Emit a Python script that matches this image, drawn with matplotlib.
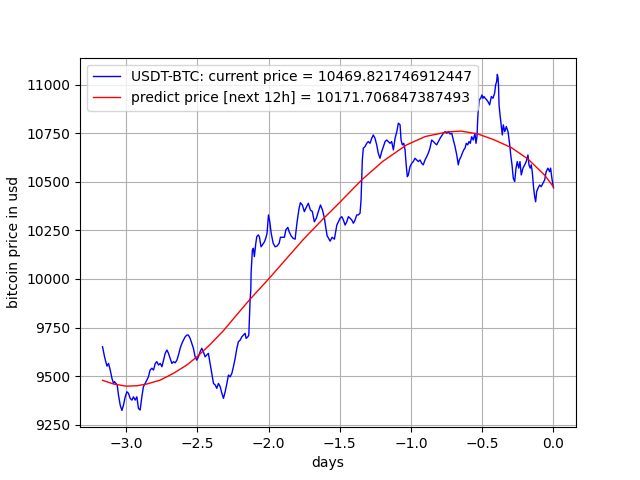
# ── Imports ──────────────────────────────────────────────────────────
import matplotlib
matplotlib.use('Agg')
import matplotlib.pyplot as plt

# ── 1. Price history (days back from now, usd) ────────────────────────
days = [
    -3.166, -3.152, -3.135, -3.124, -3.112, -3.100, -3.089, -3.082, -3.072, -3.063,
    -3.054, -3.042, -3.030, -3.019, -3.007, -2.995, -2.984, -2.972, -2.960, -2.949,
    -2.937, -2.925, -2.914, -2.902, -2.890, -2.879, -2.867, -2.855, -2.844, -2.832,
    -2.820, -2.808, -2.796, -2.785, -2.773, -2.761, -2.749, -2.738, -2.726, -2.714,
    -2.703, -2.691, -2.679, -2.668, -2.656, -2.644, -2.633, -2.621, -2.609, -2.598,
    -2.586, -2.574, -2.563, -2.551, -2.539, -2.528, -2.516, -2.504, -2.493, -2.481,
    -2.469, -2.458, -2.446, -2.434, -2.423, -2.411, -2.399, -2.387, -2.375, -2.364,
    -2.352, -2.340, -2.328, -2.317, -2.305, -2.293, -2.282, -2.270, -2.258, -2.247,
    -2.235, -2.223, -2.212, -2.200, -2.188, -2.177, -2.165, -2.158, -2.146, -2.139,
    -2.135, -2.130, -2.125, -2.123, -2.114, -2.107, -2.100, -2.090, -2.083, -2.072,
    -2.065, -2.053, -2.044, -2.029, -2.020, -2.011, -2.001, -1.992, -1.982, -1.968,
    -1.954, -1.940, -1.926, -1.917, -1.903, -1.889, -1.879, -1.865, -1.856, -1.842,
    -1.828, -1.814, -1.800, -1.786, -1.777, -1.763, -1.749, -1.735, -1.721, -1.707,
    -1.693, -1.679, -1.665, -1.651, -1.636, -1.622, -1.608, -1.599, -1.589, -1.580,
    -1.568, -1.554, -1.538, -1.521, -1.498, -1.486, -1.475, -1.463, -1.451, -1.440,
    -1.428, -1.416, -1.405, -1.393, -1.381, -1.370, -1.358, -1.351, -1.342, -1.335,
    -1.323, -1.311, -1.300, -1.288, -1.276, -1.265, -1.253, -1.241, -1.230, -1.218,
    -1.206, -1.194, -1.182, -1.171, -1.160, -1.147, -1.136, -1.124, -1.112, -1.100,
    -1.089, -1.077, -1.070, -1.061, -1.051, -1.042, -1.033, -1.026, -1.019, -1.007,
    -0.995, -0.984, -0.972, -0.960, -0.949, -0.937, -0.925, -0.914, -0.902, -0.890,
    -0.879, -0.867, -0.855, -0.843, -0.832, -0.820, -0.808, -0.796, -0.785, -0.773,
    -0.761, -0.749, -0.738, -0.726, -0.714, -0.703, -0.691, -0.679, -0.668, -0.661,
    -0.649, -0.640, -0.630, -0.621, -0.612, -0.602, -0.593, -0.584, -0.574, -0.563,
    -0.551, -0.544, -0.537, -0.532, -0.528, -0.521, -0.511, -0.502, -0.495, -0.488,
    -0.479, -0.469, -0.460, -0.448, -0.436, -0.425, -0.413, -0.406, -0.399, -0.394,
    -0.389, -0.386, -0.382, -0.375, -0.366, -0.359, -0.352, -0.342, -0.331, -0.319,
    -0.307, -0.300, -0.291, -0.282, -0.272, -0.263, -0.254, -0.244, -0.235, -0.226,
    -0.214, -0.202, -0.191, -0.179, -0.172, -0.163, -0.156, -0.149, -0.139, -0.132,
    -0.125, -0.118, -0.109, -0.097, -0.086, -0.074, -0.062, -0.051, -0.039, -0.027,
    -0.020, -0.011, 0.000,
]
price = [
    9651, 9599, 9551, 9565, 9531, 9488, 9462, 9471, 9462, 9454,
    9402, 9350, 9323, 9350, 9393, 9419, 9411, 9385, 9376, 9393,
    9376, 9393, 9333, 9325, 9393, 9445, 9462, 9479, 9496, 9531,
    9540, 9531, 9565, 9574, 9557, 9565, 9548, 9582, 9617, 9634,
    9617, 9590, 9565, 9574, 9568, 9582, 9608, 9643, 9668, 9685,
    9702, 9711, 9711, 9694, 9668, 9643, 9599, 9582, 9599, 9625,
    9643, 9625, 9599, 9608, 9617, 9565, 9514, 9462, 9454, 9437,
    9462, 9445, 9411, 9385, 9419, 9462, 9505, 9496, 9514, 9548,
    9591, 9643, 9677, 9685, 9702, 9711, 9720, 9694, 9702, 9711,
    9789, 9892, 9943, 10029, 10149, 10158, 10115, 10184, 10218, 10227,
    10218, 10166, 10175, 10192, 10210, 10236, 10330, 10295, 10236, 10184,
    10166, 10170, 10184, 10215, 10215, 10215, 10253, 10266, 10244, 10222,
    10210, 10205, 10295, 10364, 10393, 10381, 10347, 10370, 10390, 10356,
    10347, 10295, 10313, 10347, 10381, 10356, 10313, 10268, 10222, 10211,
    10195, 10215, 10205, 10278, 10313, 10321, 10304, 10278, 10295, 10321,
    10313, 10304, 10287, 10304, 10330, 10330, 10339, 10407, 10613, 10674,
    10682, 10699, 10708, 10699, 10725, 10742, 10725, 10691, 10648, 10622,
    10656, 10682, 10708, 10716, 10708, 10699, 10708, 10665, 10725, 10759,
    10803, 10794, 10716, 10691, 10699, 10665, 10579, 10527, 10536, 10579,
    10596, 10605, 10622, 10613, 10605, 10613, 10596, 10588, 10613, 10630,
    10648, 10674, 10716, 10708, 10699, 10691, 10708, 10725, 10737, 10751,
    10759, 10751, 10759, 10747, 10751, 10716, 10682, 10639, 10588, 10613,
    10630, 10648, 10665, 10674, 10699, 10691, 10708, 10699, 10733, 10716,
    10751, 10699, 10733, 10820, 10871, 10923, 10931, 10948, 10931, 10940,
    10931, 10923, 10914, 10897, 10940, 10931, 10957, 11000, 11017, 11054,
    11035, 11000, 10897, 10845, 10785, 10742, 10794, 10759, 10785, 10759,
    10691, 10639, 10588, 10519, 10502, 10571, 10605, 10571, 10605, 10536,
    10571, 10588, 10605, 10639, 10588, 10571, 10588, 10553, 10467, 10424,
    10398, 10450, 10467, 10484, 10476, 10493, 10510, 10553, 10571, 10553,
    10571, 10519, 10469.821746912447,
]

# ── 2. Fitted prediction curve ─────────────────────────────────────────
fit_days = [-3.166, -3.089, -3.0, -2.925, -2.855, -2.761, -2.668, -2.574,
            -2.5, -2.411, -2.317, -2.223, -2.13, -2.0, -1.872, -1.76, -1.63,
            -1.5, -1.347, -1.2, -1.033, -0.9, -0.742, -0.65, -0.53, -0.42,
            -0.296, -0.179, -0.062, 0.0]
fit_price = [9478, 9459, 9448, 9450, 9459, 9479, 9514, 9557,
             9601, 9662, 9734, 9816, 9896, 10000, 10107, 10201, 10300,
             10395, 10510, 10605, 10690, 10734, 10758, 10762, 10747, 10718,
             10677, 10618, 10535, 10475]

current_price = 10469.821746912447
predict_price = 10171.706847387493

# ── 3. Plot ────────────────────────────────────────────────────────────
fig = plt.figure(figsize=(6.4, 4.8), dpi=100)
plt.plot(days, price, color='blue', lw=1,
         label=f'USDT-BTC: current price = {current_price}')
plt.plot(fit_days, fit_price, color='red', lw=1,
         label=f'predict price [next 12h] = {predict_price}')
plt.xlabel('days')
plt.ylabel('bitcoin price in usd')
plt.legend(loc='upper left')
plt.grid(True)

plt.savefig('out.png')
